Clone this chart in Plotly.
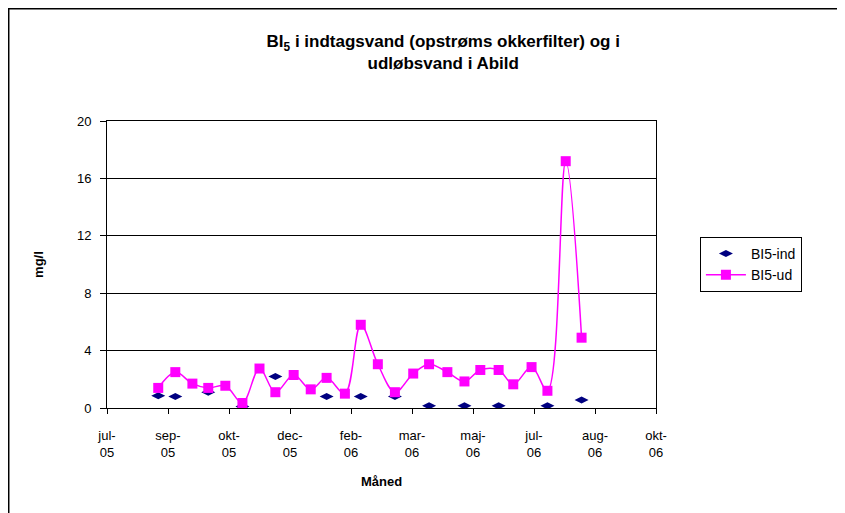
import plotly.graph_objects as go

# BI5-ud (udløbsvand), ca. hver 14. dag
ud_dates = ['2005-08-31', '2005-09-14', '2005-09-28', '2005-10-11', '2005-10-25',
            '2005-11-08', '2005-11-22', '2005-12-05', '2005-12-20', '2006-01-03',
            '2006-01-16', '2006-01-31', '2006-02-13', '2006-02-27', '2006-03-13',
            '2006-03-28', '2006-04-10', '2006-04-25', '2006-05-09', '2006-05-22',
            '2006-06-06', '2006-06-18', '2006-07-03', '2006-07-16', '2006-07-31',
            '2006-08-13']
ud_values = [1.4, 2.5, 1.7, 1.4, 1.55, 0.35, 2.75, 1.1, 2.3, 1.3,
             2.1, 1.0, 5.8, 3.05, 1.1, 2.4, 3.05, 2.5, 1.85, 2.65,
             2.65, 1.65, 2.85, 1.2, 17.2, 4.9]

# BI5-ind (indtagsvand)
ind_dates = ['2005-08-31', '2005-09-14', '2005-10-11', '2005-11-08', '2005-12-05',
             '2006-01-16', '2006-02-13', '2006-03-13', '2006-04-10', '2006-05-09',
             '2006-06-06', '2006-07-16', '2006-08-13']
ind_values = [0.85, 0.8, 1.1, 0.1, 2.2, 0.8, 0.8, 0.8, 0.15, 0.15, 0.15, 0.15, 0.55]

tick_dates = ['2005-07-20', '2005-09-08', '2005-10-28', '2005-12-17', '2006-02-05',
              '2006-03-27', '2006-05-16', '2006-07-05', '2006-08-24', '2006-10-13']
tick_labels = ['jul-<br>05', 'sep-<br>05', 'okt-<br>05', 'dec-<br>05', 'feb-<br>06',
               'mar-<br>06', 'maj-<br>06', 'jul-<br>06', 'aug-<br>06', 'okt-<br>06']

font = 'Liberation Sans, Arial, sans-serif'

fig = go.Figure()
fig.add_trace(go.Scatter(x=ind_dates, y=ind_values, mode='markers', name='BI5-ind',
                         marker=dict(symbol='diamond-wide', size=10, color='#000080')))
fig.add_trace(go.Scatter(x=ud_dates, y=ud_values, mode='lines+markers', name='BI5-ud',
                         line=dict(color='#FF00FF', width=1.5, shape='spline', smoothing=1.0),
                         marker=dict(symbol='square', size=10, color='#FF00FF')))

# siden har 8 px kant, så figuren gøres tilsvarende mindre
fig.update_layout(
    width=837, height=505,
    margin=dict(l=99, r=189, t=113, b=105),
    paper_bgcolor='white', plot_bgcolor='white',
    font=dict(family=font, size=13, color='black'),
    title=dict(text='BI<sub>5</sub> i indtagsvand (opstrøms okkerfilter) og i<br>udløbsvand i Abild',
               x=0.52, xref='container', xanchor='center', y=0.922, yanchor='middle',
               font=dict(family=font, size=17, color='black', weight='bold')),
    legend=dict(x=1.08, y=0.596, xanchor='left', yanchor='top',
                bordercolor='black', borderwidth=1, bgcolor='white',
                font=dict(size=14), itemwidth=40),
    showlegend=True,
)

fig.update_xaxes(type='date', range=['2005-07-20', '2006-10-13'],
                 tickvals=tick_dates, ticktext=tick_labels,
                 ticks='outside', ticklen=5, tickcolor='black', ticklabelstandoff=10,
                 showline=True, linecolor='black', linewidth=1, mirror=True,
                 showgrid=False, zeroline=False,
                 title=dict(text='<b>Måned</b>', standoff=18, font=dict(size=13)))
fig.update_yaxes(range=[0, 20], tickvals=[0, 4, 8, 12, 16, 20],
                 ticks='outside', ticklen=6, tickcolor='black', ticklabelstandoff=6,
                 showline=True, linecolor='black', linewidth=1, mirror=True,
                 showgrid=True, gridcolor='black', gridwidth=1, zeroline=False,
                 title=dict(text='<b>mg/l</b>', standoff=30, font=dict(size=13)))

# ramme om diagramområdet
fig.add_shape(type='rect', xref='paper', yref='paper', x0=-0.179, y0=-0.6, x1=1.6, y1=1.391,
              line=dict(color='black', width=1.5), layer='below')

fig.write_html('out.html')
